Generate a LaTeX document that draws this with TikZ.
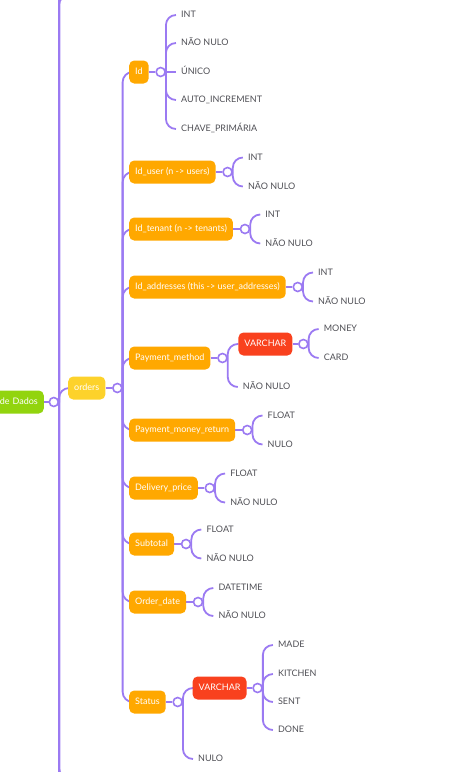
\documentclass[tikz,border=0pt]{standalone}
\usepackage{fontspec}
\setmainfont{Lato}
\usepackage{tikz}
\usetikzlibrary{positioning, backgrounds}

\definecolor{linkpurple}{HTML}{9B7AF2}
\definecolor{fieldorange}{HTML}{FFA800}
\definecolor{tableyellow}{HTML}{FDD22B}
\definecolor{typered}{HTML}{F9411E}
\definecolor{rootgreen}{HTML}{92D40E}
\definecolor{leafgray}{HTML}{4F4F55}

\tikzstyle{field}  = [rectangle, rounded corners=5pt, fill=fieldorange, text=white,
                      minimum height=23pt, inner xsep=6pt, inner ysep=0pt,
                      text height=7pt, text depth=2pt,
                      font=\fontsize{9}{10}\selectfont]
\tikzstyle{typebox}= [field, fill=typered]
\tikzstyle{leaf}   = [inner xsep=5pt, inner ysep=1pt, text=leafgray,
                      text height=7pt, text depth=2pt,
                      font=\fontsize{9}{10}\selectfont]
\tikzstyle{hub}    = [circle, draw=linkpurple, fill=white, line width=1.6pt,
                      minimum size=9pt, inner sep=0pt]
\tikzstyle{branch} = [draw=linkpurple, line width=1.8pt, rounded corners=10pt]

\begin{document}
\begin{tikzpicture}[x=1pt, y=-1pt]
  \useasboundingbox (0,0) rectangle (475,772);

  % --- Root and table ---
  \node[field, fill=rootgreen, anchor=east, text width=48pt, align=right] (root) at (44,402) {de Dados};
  \node[hub, right=4.5pt of root] (cRoot) {};
  \node[field, fill=tableyellow, anchor=west] (orders) at (68,388) {orders};
  \node[hub, right=6.5pt of orders] (cOrd) {};

  % branches leaving the picture (other tables)
  \coordinate (top1) at (95,-5);
  \coordinate (top2) at (95,-30);
  \coordinate (top3) at (95,-70);
  \coordinate (bot1) at (95,778);
  \coordinate (bot2) at (95,805);
  \coordinate (bot3) at (95,850);

  % --- Columns ---
  \node[field, anchor=west] (f1)  at (129,72)  {Id};
  \node[field, anchor=west] (f2)  at (129,172) {Id\_user (n -> users)};
  \node[field, anchor=west] (f3)  at (129,229) {Id\_tenant (n -> tenants)};
  \node[field, anchor=west] (f4)  at (129,287) {Id\_addresses (this -> user\_addresses)};
  \node[field, anchor=west] (f5)  at (129,358) {Payment\_method};
  \node[field, anchor=west] (f6)  at (129,430) {Payment\_money\_return};
  \node[field, anchor=west] (f7)  at (129,488) {Delivery\_price};
  \node[field, anchor=west] (f8)  at (129,544) {Subtotal};
  \node[field, anchor=west] (f9)  at (129,602) {Order\_date};
  \node[field, anchor=west] (f10) at (129,702) {Status};

  \foreach \i in {1,...,10}
    \node[hub, right=6.5pt of f\i] (c\i) {};

  % --- Id ---
  \node[leaf, right=10pt of c1, yshift=57pt]  (id1) {INT};
  \node[leaf, right=10pt of c1, yshift=29pt]  (id2) {NÃO NULO};
  \node[leaf, right=10pt of c1]               (id3) {ÚNICO};
  \node[leaf, right=10pt of c1, yshift=-28pt] (id4) {AUTO\_INCREMENT};
  \node[leaf, right=10pt of c1, yshift=-57pt] (id5) {CHAVE\_PRIMÁRIA};

  % --- foreign keys ---
  \node[leaf, right=10pt of c2, yshift=14.5pt]  (us1) {INT};
  \node[leaf, right=10pt of c2, yshift=-14.5pt] (us2) {NÃO NULO};
  \node[leaf, right=10pt of c3, yshift=14.5pt]  (te1) {INT};
  \node[leaf, right=10pt of c3, yshift=-14.5pt] (te2) {NÃO NULO};
  \node[leaf, right=10pt of c4, yshift=14.5pt]  (ad1) {INT};
  \node[leaf, right=10pt of c4, yshift=-14.5pt] (ad2) {NÃO NULO};

  % --- Payment_method ---
  \node[typebox, right=10.5pt of c5, yshift=14pt] (pmv) {VARCHAR};
  \node[hub, right=5.5pt of pmv] (cpmv) {};
  \node[leaf, right=10pt of c5, yshift=-29pt] (pm2) {NÃO NULO};
  \node[leaf, right=10pt of cpmv, yshift=15pt]  (pmv1) {MONEY};
  \node[leaf, right=10pt of cpmv, yshift=-14pt] (pmv2) {CARD};

  % --- numbers and dates ---
  \node[leaf, right=10pt of c6, yshift=14.5pt]  (mr1) {FLOAT};
  \node[leaf, right=10pt of c6, yshift=-14.5pt] (mr2) {NULO};
  \node[leaf, right=10pt of c7, yshift=14.5pt]  (dp1) {FLOAT};
  \node[leaf, right=10pt of c7, yshift=-14.5pt] (dp2) {NÃO NULO};
  \node[leaf, right=10pt of c8, yshift=14.5pt]  (st1) {FLOAT};
  \node[leaf, right=10pt of c8, yshift=-14.5pt] (st2) {NÃO NULO};
  \node[leaf, right=10pt of c9, yshift=14pt]    (od1) {DATETIME};
  \node[leaf, right=10pt of c9, yshift=-14pt]   (od2) {NÃO NULO};

  % --- Status ---
  \node[typebox, right=9.5pt of c10, yshift=14pt] (sv) {VARCHAR};
  \node[hub, right=5.5pt of sv] (csv) {};
  \node[leaf, right=10pt of c10, yshift=-57pt] (s2) {NULO};
  \node[leaf, right=10pt of csv, yshift=43pt]  (sv1) {MADE};
  \node[leaf, right=10pt of csv, yshift=14pt]  (sv2) {KITCHEN};
  \node[leaf, right=10pt of csv, yshift=-14pt] (sv3) {SENT};
  \node[leaf, right=10pt of csv, yshift=-42pt] (sv4) {DONE};

  % Connections
  \begin{scope}[on background layer]
    \foreach \x in {top1,top2,top3,bot1,bot2,bot3} \draw[branch] (cRoot.east) |- (\x);
    \draw[branch] (root.east) -- (cRoot);
    \draw[branch] (cRoot.east) |- (orders.west);
    \draw[branch] (orders.east) -- (cOrd);
    \foreach \x in {f1,f2,f3,f4,f5,f6,f7,f8,f9,f10} \draw[branch] (cOrd.east) |- (\x.west);
    \foreach \i in {1,...,10} \draw[branch] (f\i.east) -- (c\i);
    \foreach \x in {id1,id2,id4,id5} \draw[branch] (c1.east) |- (\x.west);
    \draw[branch] (c1) -- (id3.west);
    \foreach \x in {us1,us2} \draw[branch] (c2.east) |- (\x.west);
    \foreach \x in {te1,te2} \draw[branch] (c3.east) |- (\x.west);
    \foreach \x in {ad1,ad2} \draw[branch] (c4.east) |- (\x.west);
    \foreach \x in {pmv,pm2} \draw[branch] (c5.east) |- (\x.west);
    \draw[branch] (pmv.east) -- (cpmv);
    \foreach \x in {pmv1,pmv2} \draw[branch] (cpmv.east) |- (\x.west);
    \foreach \x in {mr1,mr2} \draw[branch] (c6.east) |- (\x.west);
    \foreach \x in {dp1,dp2} \draw[branch] (c7.east) |- (\x.west);
    \foreach \x in {st1,st2} \draw[branch] (c8.east) |- (\x.west);
    \foreach \x in {od1,od2} \draw[branch] (c9.east) |- (\x.west);
    \foreach \x in {sv,s2} \draw[branch] (c10.east) |- (\x.west);
    \draw[branch] (sv.east) -- (csv);
    \foreach \x in {sv1,sv2,sv3,sv4} \draw[branch] (csv.east) |- (\x.west);
  \end{scope}
\end{tikzpicture}
\end{document}
